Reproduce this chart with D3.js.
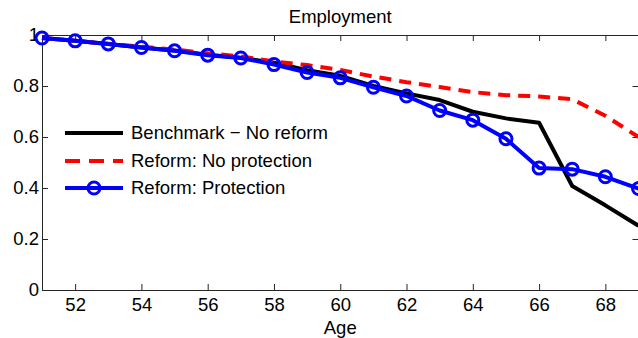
<!DOCTYPE html>
<html>
<head>
<meta charset="utf-8">
<script src="https://cdn.jsdelivr.net/npm/d3@7"></script>
<style>
  html, body { margin: 0; padding: 0; background: #fff; }
  svg { display: block; font-family: Arial, "Liberation Sans", sans-serif; }
</style>
</head>
<body>
<svg id="chart" width="638" height="338"></svg>
<script>
// Employment rate by age under three scenarios
const ages = [51, 52, 53, 54, 55, 56, 57, 58, 59, 60, 61, 62, 63, 64, 65, 66, 67, 68, 69];
const benchmark = [0.988, 0.977, 0.965, 0.951, 0.939, 0.923, 0.911, 0.891, 0.862, 0.840, 0.800, 0.771, 0.745, 0.699, 0.673, 0.656, 0.408, 0.332, 0.252];
const reformNoProtection = [0.988, 0.977, 0.966, 0.954, 0.943, 0.928, 0.916, 0.896, 0.882, 0.863, 0.837, 0.815, 0.796, 0.776, 0.764, 0.759, 0.748, 0.683, 0.600];
const reformProtection = [0.988, 0.977, 0.965, 0.951, 0.938, 0.921, 0.910, 0.884, 0.853, 0.832, 0.795, 0.761, 0.704, 0.666, 0.593, 0.478, 0.474, 0.444, 0.398];

const xTicks = [52, 54, 56, 58, 60, 62, 64, 66, 68];
const yTicks = [0, 0.2, 0.4, 0.6, 0.8, 1];
const yTickLabels = ["0", "0.2", "0.4", "0.6", "0.8", "1"];

const seriesNames = ["Benchmark \u2212 No reform", "Reform: No protection", "Reform: Protection"];

const svg = d3.select("#chart");
const plotLeft = 42, plotRight = 638.5, plotTop = 35, plotBottom = 290;

const x = d3.scaleLinear().domain([51, 69]).range([plotLeft, plotRight]);
const y = d3.scaleLinear().domain([0, 1]).range([plotBottom, plotTop]);

const axisColor = "#262626";
const fontSize = 18.5;

function styleAxis(g) {
  g.selectAll("path.domain").attr("stroke", axisColor).attr("stroke-width", 1);
  g.selectAll(".tick line").attr("stroke", axisColor).attr("stroke-width", 1);
  g.selectAll(".tick text").attr("fill", "#000").attr("font-size", fontSize)
    .attr("font-family", "Arial, 'Liberation Sans', sans-serif");
}

// Box axes with inward ticks
svg.append("g").attr("transform", `translate(0,${plotBottom})`)
  .call(d3.axisBottom(x).tickValues(xTicks).tickFormat(d3.format("d")).tickSizeInner(-6).tickSizeOuter(0).tickPadding(8))
  .call(styleAxis);
svg.append("g").attr("transform", `translate(${plotLeft},0)`)
  .call(d3.axisLeft(y).tickValues(yTicks).tickFormat((d, i) => yTickLabels[i]).tickSizeInner(-6).tickSizeOuter(0).tickPadding(3))
  .call(styleAxis);
svg.append("g").attr("transform", `translate(0,${plotTop})`)
  .call(d3.axisTop(x).tickValues(xTicks).tickFormat("").tickSizeInner(-6).tickSizeOuter(0))
  .call(styleAxis);
svg.append("g").attr("transform", `translate(${plotRight},0)`)
  .call(d3.axisRight(y).tickValues(yTicks).tickFormat("").tickSizeInner(-6).tickSizeOuter(0))
  .call(styleAxis);

// Title and axis label
svg.append("text").attr("x", (plotLeft + plotRight) / 2).attr("y", 23)
  .attr("text-anchor", "middle").attr("font-size", fontSize).text("Employment");
svg.append("text").attr("x", (plotLeft + plotRight) / 2).attr("y", 334)
  .attr("text-anchor", "middle").attr("font-size", fontSize).text("Age");

const line = d3.line().x((d, i) => x(ages[i])).y(d => y(d));

const styles = [
  { data: benchmark, color: "#000000", dash: null, marker: false },
  { data: reformNoProtection, color: "#ff0000", dash: "12,8", marker: false },
  { data: reformProtection, color: "#0000ff", dash: null, marker: true }
];

styles.forEach(s => {
  svg.append("path").datum(s.data)
    .attr("d", line)
    .attr("fill", "none")
    .attr("stroke", s.color)
    .attr("stroke-width", 4)
    .attr("stroke-linejoin", "round")
    .attr("stroke-dasharray", s.dash);
  if (s.marker) {
    svg.append("g").selectAll("circle").data(s.data).join("circle")
      .attr("cx", (d, i) => x(ages[i]))
      .attr("cy", d => y(d))
      .attr("r", 6)
      .attr("fill", "none")
      .attr("stroke", s.color)
      .attr("stroke-width", 3);
  }
});

// Legend
const legend = svg.append("g");
const legendY = [133, 161, 188];
styles.forEach((s, i) => {
  legend.append("line")
    .attr("x1", 65).attr("x2", 123)
    .attr("y1", legendY[i]).attr("y2", legendY[i])
    .attr("stroke", s.color).attr("stroke-width", 4)
    .attr("stroke-dasharray", s.dash ? "15,9" : null);
  if (s.marker) {
    legend.append("circle").attr("cx", 94).attr("cy", legendY[i]).attr("r", 6)
      .attr("fill", "none").attr("stroke", s.color).attr("stroke-width", 3);
  }
  legend.append("text").attr("x", 131).attr("y", legendY[i]).attr("dy", "0.35em")
    .attr("font-size", fontSize).text(seriesNames[i]);
});
</script>
</body>
</html>
